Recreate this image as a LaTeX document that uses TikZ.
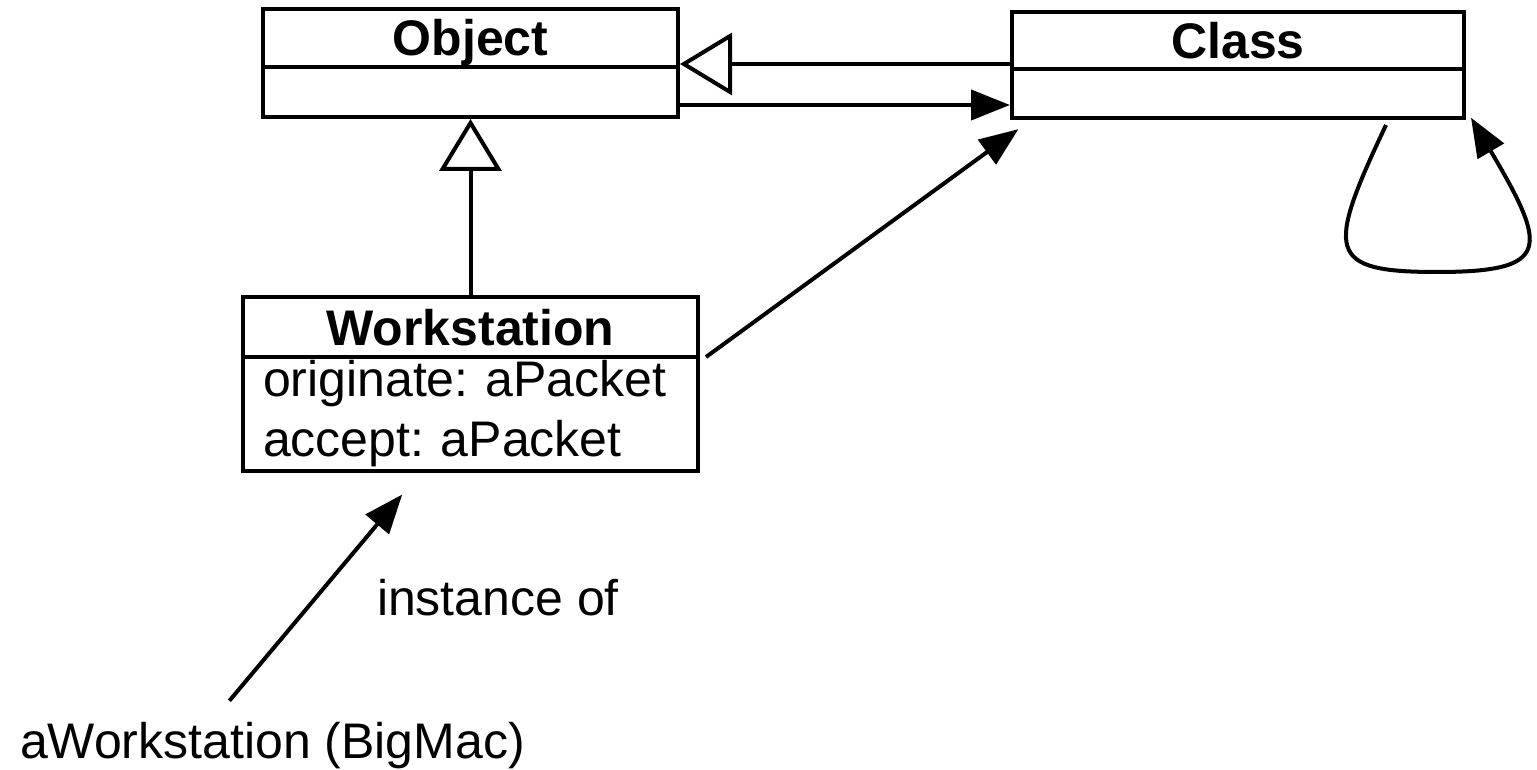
\documentclass[tikz,border=0pt]{standalone}
\usepackage{fontspec}
\setmainfont{Liberation Sans}
\usepackage{tikz}
\usetikzlibrary{arrows.meta,positioning}
\frenchspacing

\begin{document}
\begin{tikzpicture}[x=1pt, y=-1pt, line width=4pt,
  every node/.style={font=\fontsize{50}{60}\selectfont, inner sep=0pt, outer sep=0pt},
  umltitle/.style={draw, font=\fontsize{50}{60}\selectfont\bfseries, text height=36pt, text depth=0pt},
  umlbody/.style={draw},
  inherit/.style={-{Triangle[open, length=52pt, width=62pt]}, shorten >=2pt},
  assoc/.style={-{Triangle[length=39pt, width=30pt]}, shorten >=2pt}]
\useasboundingbox (0,0) rectangle (1537,770);
\node[umltitle, minimum width=415pt, minimum height=58pt, anchor=north west] (obj) at (263,9) {Object};
\node[umlbody, minimum width=415pt, minimum height=50pt, below=0pt of obj] (objbody) {};
\node[umltitle, minimum width=452pt, minimum height=57pt, anchor=north west] (cls) at (1012,12) {Class};
\node[umlbody, minimum width=452pt, minimum height=49pt, below=0pt of cls] (clsbody) {};
\node[umltitle, minimum width=455pt, minimum height=60pt, anchor=north west] (ws) at (243,297) {Workstation};
\node[umlbody, minimum width=455pt, minimum height=114pt, inner xsep=20pt, text width=415pt, align=left, below=0pt of ws] (wsbody) {originate: aPacket\\accept: aPacket};
\node[anchor=base west] (inst) at (20,758) {aWorkstation (BigMac)};
\node[anchor=base west] (lblinst) at (377,615) {instance of};
\coordinate (loopstart) at ([shift={(148pt,-7pt)}]clsbody.south);
\draw[inherit] ([yshift=5pt]clsbody.north west) -- ([yshift=5pt]clsbody.north west -| obj.east);
\draw[assoc] ([yshift=12pt]objbody.south east) -- ([yshift=12pt]objbody.south east -| cls.west);
\draw[inherit] (ws.north) -- (objbody.south -| ws.north);
\draw[assoc] ([xshift=8pt]wsbody.north east) -- ([shift={(8pt,-10pt)}]clsbody.south west);
\draw[assoc] (loopstart) .. controls (1326,252) and (1326,272) .. (1437,272)
  .. controls (1552,272) and (1548,248) .. ([shift={(6pt,2pt)}]clsbody.south east);
\draw[assoc] ([shift={(-43pt,21pt)}]inst.north) -- ([shift={(-67pt,-22pt)}]wsbody.south);
\end{tikzpicture}
\end{document}
